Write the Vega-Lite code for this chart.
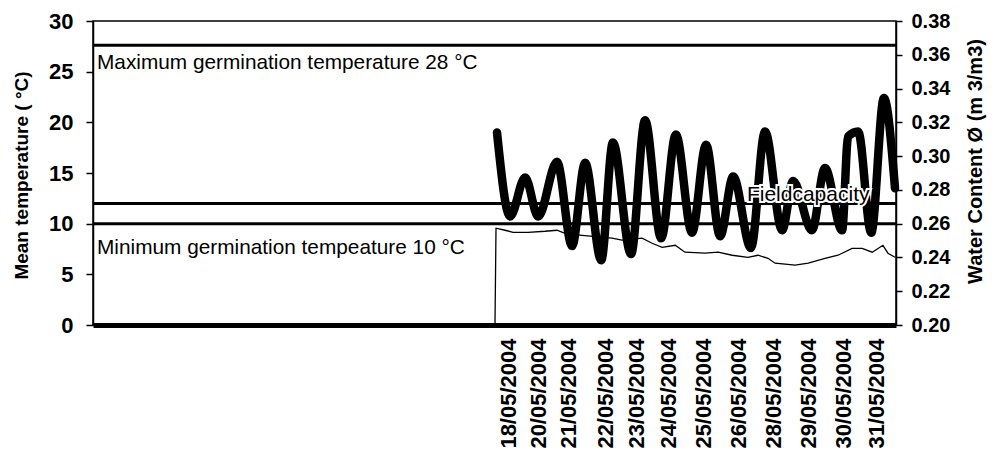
{
  "$schema": "https://vega.github.io/schema/vega-lite/v6.json",
  "width": 803,
  "height": 304,
  "autosize": "none",
  "padding": {"left": 93, "top": 21, "right": 107, "bottom": 133},
  "background": "white",
  "config": {"font": "Liberation Sans", "view": {"stroke": "black", "strokeWidth": 1.5}},
  "datasets": {
    "temperature": [
      {"day": -0.33, "temp": 19.0},
      {"day": 0.06, "temp": 10.7},
      {"day": 0.51, "temp": 14.55},
      {"day": 0.90, "temp": 10.7},
      {"day": 1.46, "temp": 16.1},
      {"day": 1.91, "temp": 7.8},
      {"day": 2.30, "temp": 16.0},
      {"day": 2.78, "temp": 6.4},
      {"day": 3.13, "temp": 18.0},
      {"day": 3.67, "temp": 7.0},
      {"day": 4.09, "temp": 20.2},
      {"day": 4.57, "temp": 8.55},
      {"day": 5.01, "temp": 18.8},
      {"day": 5.49, "temp": 9.1},
      {"day": 5.91, "temp": 17.8},
      {"day": 6.33, "temp": 8.75},
      {"day": 6.72, "temp": 14.65},
      {"day": 7.25, "temp": 7.6},
      {"day": 7.67, "temp": 19.1},
      {"day": 8.18, "temp": 9.35},
      {"day": 8.51, "temp": 14.2},
      {"day": 9.07, "temp": 9.35},
      {"day": 9.46, "temp": 15.5},
      {"day": 9.97, "temp": 9.35},
      {"day": 10.15, "temp": 18.6},
      {"day": 10.45, "temp": 19.1},
      {"day": 10.84, "temp": 9.1},
      {"day": 11.22, "temp": 22.4},
      {"day": 11.55, "temp": 13.5}
    ],
    "water": [
      {"day": -0.39, "water": 0.201},
      {"day": -0.36, "water": 0.2573},
      {"day": -0.09, "water": 0.2561},
      {"day": 0.15, "water": 0.2549},
      {"day": 0.60, "water": 0.2549},
      {"day": 1.10, "water": 0.2555},
      {"day": 1.46, "water": 0.2561},
      {"day": 1.70, "water": 0.2543},
      {"day": 2.21, "water": 0.2531},
      {"day": 3.10, "water": 0.2514},
      {"day": 3.40, "water": 0.2502},
      {"day": 4.00, "water": 0.2514},
      {"day": 4.30, "water": 0.2484},
      {"day": 4.60, "water": 0.2460},
      {"day": 4.99, "water": 0.2472},
      {"day": 5.28, "water": 0.2431},
      {"day": 5.88, "water": 0.2425},
      {"day": 6.27, "water": 0.2431},
      {"day": 6.69, "water": 0.2413},
      {"day": 7.16, "water": 0.2401},
      {"day": 7.46, "water": 0.2413},
      {"day": 7.76, "water": 0.2395},
      {"day": 7.97, "water": 0.2366},
      {"day": 8.57, "water": 0.2354},
      {"day": 8.96, "water": 0.2366},
      {"day": 9.46, "water": 0.2395},
      {"day": 9.85, "water": 0.2413},
      {"day": 10.27, "water": 0.2454},
      {"day": 10.57, "water": 0.2454},
      {"day": 10.87, "water": 0.2431},
      {"day": 11.19, "water": 0.2472},
      {"day": 11.34, "water": 0.2425},
      {"day": 11.55, "water": 0.2401}
    ],
    "thresholds": [
      {"name": "max", "temp": 27.6},
      {"name": "field", "temp": 12.0},
      {"name": "min", "temp": 10.0}
    ],
    "notes": [
      {"label": "Maximum germination temperature 28 °C", "day": -12.27, "temp": 25.9},
      {"label": "Minimum germination tempeature 10 °C", "day": -12.27, "temp": 7.6}
    ],
    "field": [
      {"label": "Fieldcapacity", "day": 7.13, "temp": 12.8}
    ]
  },
  "resolve": {"scale": {"y": "independent"}},
  "layer": [
    {
      "data": {"name": "water"},
      "mark": {"type": "line", "color": "black", "strokeWidth": 1.3},
      "encoding": {
        "x": {"field": "day", "type": "quantitative", "scale": {"domain": [-12.39, 11.58], "nice": false, "zero": false}},
        "y": {
          "field": "water", "type": "quantitative",
          "scale": {"domain": [0.2, 0.38], "nice": false, "zero": false},
          "axis": {
            "orient": "right", "values": [0.2, 0.22, 0.24, 0.26, 0.28, 0.3, 0.32, 0.34, 0.36, 0.38], "format": ".2f",
            "grid": false, "domain": true, "domainColor": "black", "domainWidth": 1.5,
            "ticks": true, "tickSize": 6, "tickColor": "black", "tickWidth": 1.5,
            "labelFontSize": 20, "labelFontWeight": "bold", "labelColor": "black", "labelPadding": 9,
            "title": "Water Content Ø (m 3/m3)", "titleFontSize": 20, "titleFontWeight": "bold", "titleColor": "black",
            "titleAngle": 270, "titleX": 79, "titleY": 140, "titleAlign": "center", "titleBaseline": "middle"
          }
        }
      }
    },
    {
      "layer": [
        {
          "data": {"name": "thresholds"},
          "mark": {"type": "rule", "color": "black", "strokeWidth": 3},
          "encoding": {
            "y": {
              "field": "temp", "type": "quantitative",
              "scale": {"domain": [0, 30], "nice": false, "zero": false},
              "axis": {
                "orient": "left", "values": [0, 5, 10, 15, 20, 25, 30],
                "grid": false, "domain": true, "domainColor": "black", "domainWidth": 1.5,
                "ticks": true, "tickSize": 7, "tickColor": "black", "tickWidth": 1.5,
                "labelFontSize": 22, "labelFontWeight": "bold", "labelColor": "black", "labelPadding": 13,
                "title": "Mean temperature  ( °C)", "titleFontSize": 19, "titleFontWeight": "bold", "titleColor": "black",
                "titleAngle": 270, "titleX": -72, "titleY": 154, "titleAlign": "center", "titleBaseline": "middle"
              }
            }
          }
        },
        {
          "data": {"name": "temperature"},
          "mark": {"type": "line", "color": "black", "strokeWidth": 8.5, "interpolate": "monotone", "strokeCap": "round", "strokeJoin": "round"},
          "encoding": {
            "x": {
              "field": "day", "type": "quantitative",
              "scale": {"domain": [-12.39, 11.58], "nice": false, "zero": false},
              "axis": {
                "values": [0, 0.9, 1.79, 2.9, 3.84, 4.78, 5.82, 6.87, 7.91, 8.96, 10, 11.01],
                "labelExpr": "['18/05/2004','20/05/2004','21/05/2004','22/05/2004','23/05/2004','24/05/2004','25/05/2004','26/05/2004','28/05/2004','29/05/2004','30/05/2004','31/05/2004'][indexof([0,0.9,1.79,2.9,3.84,4.78,5.82,6.87,7.91,8.96,10,11.01], datum.value)]",
                "labelAngle": 270, "labelAlign": "right", "labelBaseline": "middle",
                "labelFontSize": 22, "labelFontWeight": "bold", "labelColor": "black", "labelPadding": 13,
                "labelOverlap": false, "labelFlush": false, "labelBound": false,
                "ticks": false, "grid": false, "domain": true, "domainColor": "black", "domainWidth": 5,
                "title": null
              }
            },
            "y": {"field": "temp", "type": "quantitative"}
          }
        },
        {
          "data": {"name": "notes"},
          "mark": {"type": "text", "align": "left", "baseline": "middle", "fontSize": 20.8, "color": "black"},
          "encoding": {
            "x": {"field": "day", "type": "quantitative"},
            "y": {"field": "temp", "type": "quantitative"},
            "text": {"field": "label"}
          }
        },
        {
          "data": {"name": "field"},
          "mark": {"type": "text", "align": "left", "baseline": "middle", "fontSize": 21, "stroke": "white", "strokeWidth": 4, "fill": "white"},
          "encoding": {
            "x": {"field": "day", "type": "quantitative"},
            "y": {"field": "temp", "type": "quantitative"},
            "text": {"field": "label"}
          }
        },
        {
          "data": {"name": "field"},
          "mark": {"type": "text", "align": "left", "baseline": "middle", "fontSize": 21, "color": "black"},
          "encoding": {
            "x": {"field": "day", "type": "quantitative"},
            "y": {"field": "temp", "type": "quantitative"},
            "text": {"field": "label"}
          }
        }
      ]
    }
  ]
}
